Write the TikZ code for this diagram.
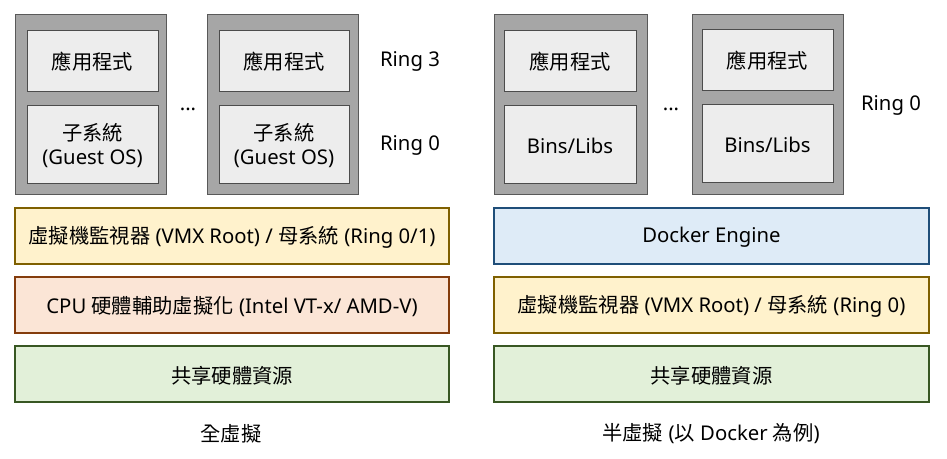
\documentclass[tikz,border=0pt]{standalone}
\usepackage{fontspec}
\setmainfont{Noto Sans}
\newfontfamily\cjkfont{Noto Sans CJK TC}
\newcommand{\cj}[1]{{\cjkfont #1}}
\begin{document}
\begin{tikzpicture}[x=1pt,y=-1pt,
  font=\fontsize{20.3}{24}\selectfont,
  outerbox/.style={draw=black!65,fill=black!35,line width=1pt},
  innerbox/.style={draw=black!70,fill=black!7,line width=1pt,align=center},
  yellowlayer/.style={draw=yellowbd,fill=yellowbg,line width=1.3pt},
  pinklayer/.style={draw=pinkbd,fill=pinkbg,line width=1.3pt},
  greenlayer/.style={draw=greenbd,fill=greenbg,line width=1.3pt},
  bluelayer/.style={draw=bluebd,fill=bluebg,line width=1.3pt},
  lbl/.style={inner sep=0pt,align=center,yshift=-1.5pt}]
\definecolor{yellowbg}{HTML}{FFF2CC}\definecolor{yellowbd}{HTML}{7F6000}
\definecolor{pinkbg}{HTML}{FBE5D6}\definecolor{pinkbd}{HTML}{843C0C}
\definecolor{greenbg}{HTML}{E2F0D9}\definecolor{greenbd}{HTML}{385723}
\definecolor{bluebg}{HTML}{DEEBF7}\definecolor{bluebd}{HTML}{1F4E79}
\useasboundingbox (0,0) rectangle (947,458);
\fill[white] (0,0) rectangle (947,458);
% left containers
\draw[outerbox] (15,14) rectangle (166,194);
\draw[outerbox] (207,14) rectangle (358,194);
\draw[innerbox] (27,30) rectangle (158,91) node[midway,lbl] (a1) {\cj{應用程式}};
\draw[innerbox] (27,105) rectangle (158,183) node[midway,lbl] (g1) {\cj{子系統}\\(Guest OS)};
\draw[innerbox] (219,30) rectangle (349,91) node[midway,lbl] (a2) {\cj{應用程式}};
\draw[innerbox] (219,105) rectangle (349,183) node[midway,lbl] (g2) {\cj{子系統}\\(Guest OS)};
\node[lbl] (dots1) at (188,108) {...};
\node[lbl] (r3) at (410,60) {Ring 3};
\node[lbl] (r0a) at (410,144) {Ring 0};
% left layers
\draw[yellowlayer] (15,208) rectangle (449,264) node[midway,lbl] (hv1) {\cj{虛擬機監視器} (VMX Root) / \cj{母系統} (Ring 0/1)};
\draw[pinklayer] (15,277) rectangle (449,333) node[midway,lbl] (cpu) {CPU \cj{硬體輔助虛擬化} (Intel VT-x/ AMD-V)};
\draw[greenlayer] (15,346) rectangle (449,402) node[midway,lbl] (hw1) {\cj{共享硬體資源}};
\node[lbl] (cap1) at (231,432) {\cj{全虛擬}};
% right containers
\draw[outerbox] (494,14) rectangle (647,194);
\draw[outerbox] (692,14) rectangle (843,194);
\draw[innerbox] (504,30) rectangle (636,91) node[midway,lbl] (a3) {\cj{應用程式}};
\draw[innerbox] (504,105) rectangle (636,183) node[midway,lbl] (b3) {Bins/Libs};
\draw[innerbox] (702,29) rectangle (833,90) node[midway,lbl] (a4) {\cj{應用程式}};
\draw[innerbox] (702,104) rectangle (833,182) node[midway,lbl] (b4) {Bins/Libs};
\node[lbl] (dots2) at (671,108) {...};
\node[lbl] (r0b) at (891,104) {Ring 0};
% right layers
\draw[bluelayer] (494,208) rectangle (929,264) node[midway,lbl] (de) {Docker Engine};
\draw[yellowlayer] (494,277) rectangle (929,333) node[midway,lbl] (hv2) {\cj{虛擬機監視器} (VMX Root) / \cj{母系統} (Ring 0)};
\draw[greenlayer] (494,346) rectangle (929,402) node[midway,lbl] (hw2) {\cj{共享硬體資源}};
\node[lbl] (cap2) at (711,432) {\cj{半虛擬} (\cj{以} Docker \cj{為例})};
\end{tikzpicture}
\end{document}
